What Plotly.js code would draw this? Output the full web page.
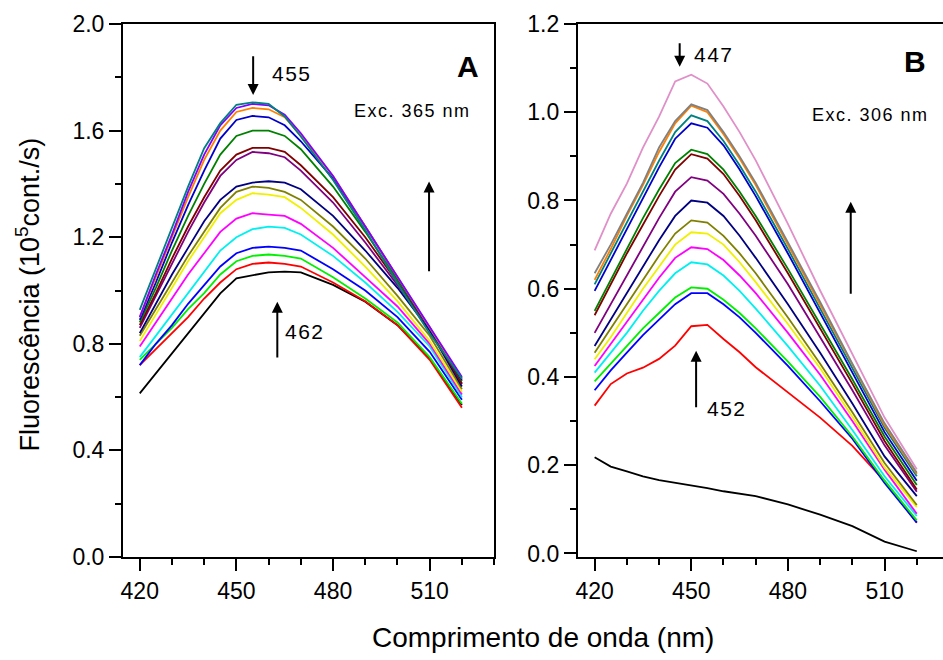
<!DOCTYPE html>
<html>
<head>
<meta charset="utf-8">
<script src="https://cdn.plot.ly/plotly-3.0.1.min.js"></script>
<style>
html, body { margin: 0; padding: 0; overflow: hidden; background: #fff; }
#chart { width: 960px; height: 660px; }
</style>
</head>
<body>
<div id="chart"></div>
<script>
// Wavelength grid (nm)
const wavelength = [420, 425, 430, 435, 440, 445, 450, 455, 460, 465, 470, 480, 490, 500, 510, 520];

// Panel A (Exc. 365 nm) — fluorescence (10^5 counts/s)
const A_black     = [0.614, 0.689, 0.764, 0.839, 0.914, 0.989, 1.046, 1.058, 1.068, 1.071, 1.068, 1.021, 0.958, 0.870, 0.745, 0.570];
const A_red       = [0.720, 0.780, 0.840, 0.900, 0.970, 1.030, 1.080, 1.100, 1.105, 1.100, 1.090, 1.030, 0.960, 0.870, 0.740, 0.560];
const A_green     = [0.740, 0.800, 0.860, 0.930, 0.990, 1.060, 1.110, 1.130, 1.135, 1.130, 1.120, 1.050, 0.970, 0.880, 0.750, 0.575];
const A_blue      = [0.720, 0.800, 0.870, 0.950, 1.020, 1.090, 1.140, 1.160, 1.165, 1.160, 1.150, 1.080, 1.000, 0.900, 0.770, 0.590];
const A_cyan      = [0.750, 0.830, 0.910, 0.990, 1.070, 1.150, 1.200, 1.230, 1.240, 1.235, 1.210, 1.130, 1.030, 0.920, 0.790, 0.600];
const A_magenta   = [0.790, 0.880, 0.970, 1.060, 1.140, 1.220, 1.270, 1.290, 1.285, 1.280, 1.250, 1.160, 1.050, 0.940, 0.800, 0.610];
const A_yellow    = [0.810, 0.910, 1.010, 1.110, 1.200, 1.290, 1.340, 1.365, 1.360, 1.350, 1.310, 1.210, 1.090, 0.960, 0.810, 0.620];
const A_olive     = [0.830, 0.930, 1.030, 1.130, 1.220, 1.310, 1.370, 1.390, 1.385, 1.370, 1.340, 1.240, 1.120, 0.980, 0.830, 0.630];
const A_navy      = [0.840, 0.950, 1.060, 1.160, 1.260, 1.340, 1.390, 1.405, 1.410, 1.405, 1.380, 1.280, 1.150, 1.010, 0.850, 0.640];
const A_purple    = [0.860, 0.980, 1.100, 1.220, 1.330, 1.430, 1.490, 1.520, 1.515, 1.500, 1.450, 1.330, 1.180, 1.020, 0.860, 0.650];
const A_wine      = [0.870, 0.990, 1.120, 1.240, 1.350, 1.450, 1.510, 1.535, 1.535, 1.520, 1.470, 1.350, 1.200, 1.030, 0.860, 0.650];
const A_darkgreen = [0.880, 1.010, 1.150, 1.280, 1.400, 1.510, 1.580, 1.600, 1.600, 1.580, 1.530, 1.390, 1.220, 1.040, 0.860, 0.660];
const A_royal     = [0.890, 1.030, 1.180, 1.320, 1.450, 1.570, 1.640, 1.655, 1.650, 1.620, 1.560, 1.420, 1.240, 1.050, 0.860, 0.665];
const A_orange    = [0.900, 1.050, 1.200, 1.350, 1.490, 1.600, 1.670, 1.685, 1.680, 1.650, 1.580, 1.430, 1.240, 1.050, 0.860, 0.670];
const A_violet    = [0.900, 1.060, 1.210, 1.370, 1.510, 1.620, 1.685, 1.700, 1.695, 1.660, 1.590, 1.430, 1.240, 1.050, 0.860, 0.675];
const A_darkcyan  = [0.927, 1.080, 1.239, 1.390, 1.534, 1.628, 1.697, 1.706, 1.700, 1.653, 1.578, 1.415, 1.227, 1.027, 0.839, 0.670];

// Panel B (Exc. 306 nm)
const B_black     = [0.218, 0.197, 0.186, 0.175, 0.166, 0.160, 0.155, 0.148, 0.141, 0.136, 0.130, 0.111, 0.088, 0.062, 0.027, 0.005];
const B_red       = [0.335, 0.384, 0.408, 0.421, 0.441, 0.471, 0.515, 0.518, 0.486, 0.456, 0.422, 0.365, 0.308, 0.244, 0.164, 0.070];
const B_blue      = [0.370, 0.415, 0.455, 0.495, 0.530, 0.565, 0.590, 0.590, 0.565, 0.535, 0.500, 0.425, 0.345, 0.260, 0.160, 0.070];
const B_green     = [0.390, 0.430, 0.470, 0.510, 0.545, 0.580, 0.603, 0.600, 0.575, 0.545, 0.510, 0.435, 0.355, 0.265, 0.165, 0.075];
const B_cyan      = [0.410, 0.455, 0.500, 0.550, 0.595, 0.635, 0.660, 0.655, 0.630, 0.595, 0.555, 0.470, 0.380, 0.280, 0.175, 0.085];
const B_magenta   = [0.425, 0.475, 0.525, 0.575, 0.625, 0.670, 0.694, 0.690, 0.665, 0.630, 0.590, 0.500, 0.405, 0.300, 0.190, 0.090];
const B_yellow    = [0.440, 0.490, 0.545, 0.600, 0.650, 0.700, 0.728, 0.725, 0.700, 0.660, 0.615, 0.520, 0.420, 0.310, 0.195, 0.105];
const B_olive     = [0.455, 0.510, 0.565, 0.620, 0.675, 0.725, 0.755, 0.750, 0.720, 0.680, 0.635, 0.535, 0.430, 0.320, 0.205, 0.110];
const B_navy      = [0.470, 0.530, 0.590, 0.650, 0.710, 0.765, 0.800, 0.795, 0.765, 0.720, 0.670, 0.565, 0.455, 0.340, 0.220, 0.130];
const B_purple    = [0.500, 0.565, 0.630, 0.695, 0.760, 0.820, 0.853, 0.845, 0.815, 0.770, 0.720, 0.610, 0.490, 0.370, 0.245, 0.140];
const B_wine      = [0.540, 0.610, 0.680, 0.745, 0.810, 0.870, 0.905, 0.895, 0.860, 0.810, 0.755, 0.635, 0.510, 0.385, 0.255, 0.145];
const B_darkgreen = [0.550, 0.620, 0.690, 0.760, 0.825, 0.885, 0.915, 0.905, 0.870, 0.820, 0.765, 0.645, 0.520, 0.395, 0.265, 0.155];
const B_royal     = [0.595, 0.665, 0.735, 0.805, 0.875, 0.940, 0.975, 0.965, 0.925, 0.870, 0.810, 0.680, 0.545, 0.410, 0.275, 0.165];
const B_darkcyan  = [0.610, 0.680, 0.750, 0.820, 0.890, 0.955, 0.993, 0.980, 0.935, 0.880, 0.820, 0.690, 0.555, 0.420, 0.285, 0.175];
const B_orange    = [0.620, 0.690, 0.765, 0.835, 0.910, 0.975, 1.015, 1.000, 0.950, 0.895, 0.835, 0.700, 0.565, 0.428, 0.290, 0.180];
const B_gray      = [0.635, 0.700, 0.770, 0.840, 0.920, 0.980, 1.018, 1.005, 0.955, 0.900, 0.840, 0.705, 0.570, 0.430, 0.295, 0.183];
const B_pink      = [0.687, 0.770, 0.838, 0.920, 0.990, 1.070, 1.085, 1.065, 1.013, 0.955, 0.891, 0.747, 0.596, 0.452, 0.308, 0.191];

const xTickVals = [420, 450, 480, 510];

const seriesA = [
  [A_black, '#000000'], [A_red, '#FF0000'], [A_green, '#00F000'], [A_blue, '#0000FF'],
  [A_cyan, '#00F0F0'], [A_magenta, '#FF00FF'], [A_yellow, '#F0F000'], [A_olive, '#808000'],
  [A_navy, '#000080'], [A_purple, '#800080'], [A_wine, '#800000'], [A_darkgreen, '#008000'],
  [A_royal, '#0000C8'], [A_orange, '#FF8000'], [A_violet, '#8000FF'], [A_darkcyan, '#008080']
];
const seriesB = [
  [B_black, '#000000'], [B_red, '#FF0000'], [B_blue, '#0000FF'], [B_green, '#00F000'],
  [B_cyan, '#00F0F0'], [B_magenta, '#FF00FF'], [B_yellow, '#F0F000'], [B_olive, '#808000'],
  [B_navy, '#000080'], [B_purple, '#800080'], [B_wine, '#800000'], [B_darkgreen, '#008000'],
  [B_royal, '#0000C8'], [B_darkcyan, '#008080'], [B_orange, '#FF8000'], [B_gray, '#808080'],
  [B_pink, '#E090C8']
];

const traces = [];
seriesA.forEach(([y, c]) => traces.push({
  x: wavelength, y: y, type: 'scatter', mode: 'lines',
  line: {color: c, width: 1.8}, xaxis: 'x', yaxis: 'y', hoverinfo: 'skip'
}));
seriesB.forEach(([y, c]) => traces.push({
  x: wavelength, y: y, type: 'scatter', mode: 'lines',
  line: {color: c, width: 1.8}, xaxis: 'x2', yaxis: 'y2', hoverinfo: 'skip'
}));

const FONT = 'Liberation Sans, Arial, sans-serif';
const axisBase = {
  showline: true, linewidth: 2, linecolor: '#000', mirror: true,
  ticks: 'outside', ticklen: 12, tickwidth: 2, tickcolor: '#000',
  showgrid: false, zeroline: false,
  tickfont: {family: FONT, size: 23, color: '#000'}
};
function xAx(domain, anchor) {
  return Object.assign({}, axisBase, {
    domain: domain, anchor: anchor, range: [414.8, 530],
    tickmode: 'array', tickvals: xTickVals,
    minor: {ticks: 'outside', ticklen: 6, tickwidth: 2, tickcolor: '#000', tick0: 420, dtick: 10, showgrid: false}
  });
}
function yAx(range, dtick, mdtick, anchor) {
  return Object.assign({}, axisBase, {
    anchor: anchor, range: range, tick0: 0, dtick: dtick, tickformat: '.1f',
    minor: {ticks: 'outside', ticklen: 6, tickwidth: 2, tickcolor: '#000', tick0: 0, dtick: mdtick, showgrid: false}
  });
}

function arrow(xref, yref, x, y, ax, ay) {
  return {xref: xref, yref: yref, axref: xref, ayref: yref, x: x, y: y, ax: ax, ay: ay,
    text: '', showarrow: true, arrowhead: 2, arrowsize: 1.1, arrowwidth: 2, arrowcolor: '#000', standoff: 0, startstandoff: 0};
}
function label(xref, yref, x, y, text, size, extra) {
  return Object.assign({xref: xref, yref: yref, x: x, y: y, text: text, showarrow: false,
    font: {family: FONT, size: size, color: '#000'}, xanchor: 'center', yanchor: 'middle'}, extra || {});
}

const annotations = [
  // Panel A
  arrow('x', 'y', 455.2, 1.734, 455.2, 1.885),
  label('x', 'y', 467.3, 1.816, '<span style="letter-spacing:1.5px">455</span>', 21),
  arrow('x', 'y', 509.8, 1.409, 509.8, 1.067),
  arrow('x', 'y', 462.7, 0.958, 462.7, 0.743),
  label('x', 'y', 471.3, 0.845, '<span style="letter-spacing:1.5px">462</span>', 21),
  label('x', 'y', 504.6, 1.672, '<span style="letter-spacing:1.5px">Exc. 365 nm</span>', 18),
  label('x', 'y', 521.8, 1.84, '<b>A</b>', 30),
  // Panel B
  arrow('x2', 'y2', 446.4, 1.103, 446.4, 1.160),
  label('x2', 'y2', 457.1, 1.130, '<span style="letter-spacing:1.5px">447</span>', 21),
  arrow('x2', 'y2', 499.5, 0.797, 499.5, 0.585),
  arrow('x2', 'y2', 451.5, 0.4595, 451.5, 0.328),
  label('x2', 'y2', 461.2, 0.328, '<span style="letter-spacing:1.5px">452</span>', 21),
  label('x2', 'y2', 505.6, 0.994, '<span style="letter-spacing:1.5px">Exc. 306 nm</span>', 18),
  label('x2', 'y2', 519.5, 1.116, '<b>B</b>', 30),
  // Axis titles
  label('paper', 'paper', -0.1153, 0.492, 'Fluorescência (10<sup>5</sup>cont./s)', 27, {textangle: -90}),
  label('paper', 'paper', 0.508, -0.151, 'Comprimento de onda (nm)', 28, {yanchor: 'middle'})
];

const layout = {
  width: 960, height: 660,
  margin: {l: 123.3, r: 10.5, t: 24.3, b: 103.3, pad: 0},
  paper_bgcolor: '#fff', plot_bgcolor: '#fff',
  showlegend: false,
  font: {family: FONT, color: '#000'},
  xaxis: xAx([0, 0.4493], 'y'),
  yaxis: yAx([0, 2.0], 0.4, 0.2, 'x'),
  xaxis2: xAx([0.5507, 1], 'y2'),
  yaxis2: yAx([-0.008, 1.2], 0.2, 0.1, 'x2'),
  annotations: annotations
};

Plotly.newPlot('chart', traces, layout, {staticPlot: true, displayModeBar: false});
</script>
</body>
</html>
